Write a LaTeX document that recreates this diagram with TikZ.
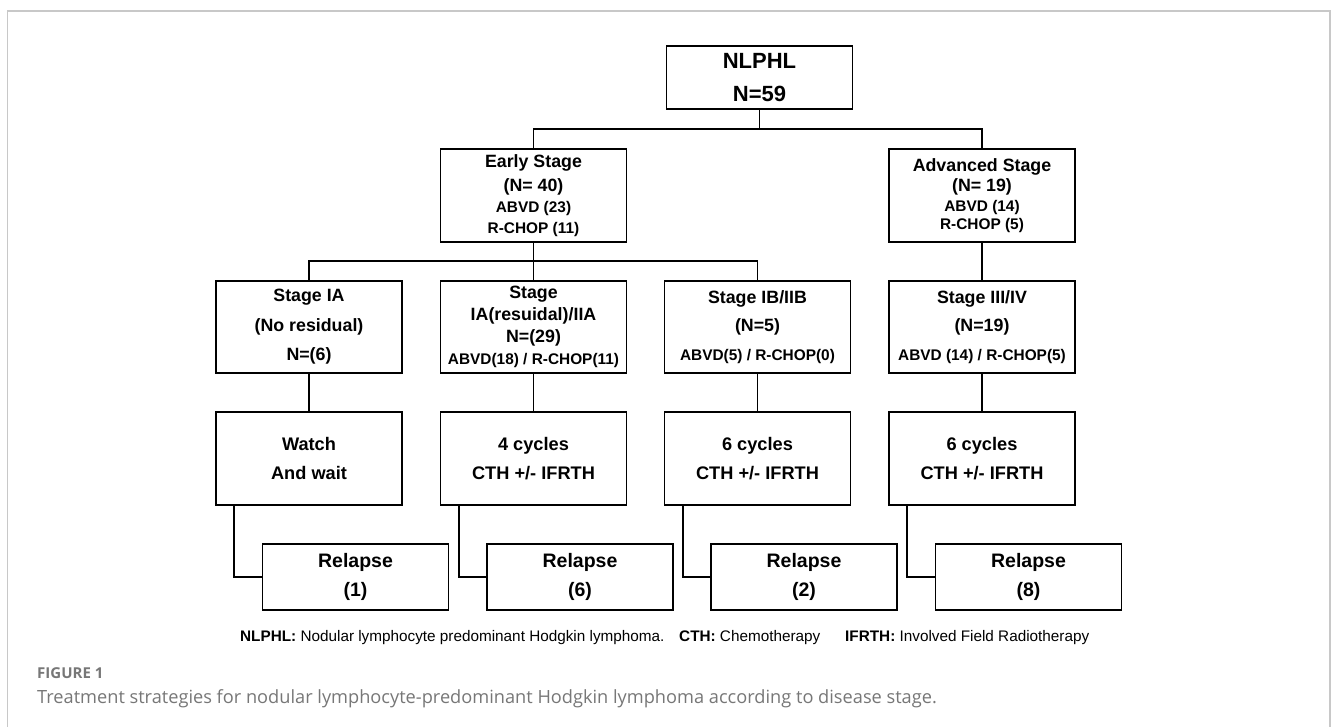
\documentclass[tikz,border=0pt]{standalone}
\usepackage{fontspec}
\setmainfont{Liberation Sans}
\newfontfamily\capfont{Open Sans}
\definecolor{framegray}{HTML}{C8C8C8}
\definecolor{capgray}{HTML}{777777}
\begin{document}
\begin{tikzpicture}[x=1pt,y=-1pt,
  box/.style={draw, line width=1.7pt, minimum width=186pt, inner sep=0pt, align=center, font=\bfseries},
  conn/.style={line width=1.7pt},
  legend/.style={anchor=base west, inner sep=0pt, font=\fontsize{15.3}{17}\selectfont}]
\useasboundingbox (0,0) rectangle (1331,726);
\fill[white] (0,0) rectangle (1331,726);
\draw[framegray, line width=1.2pt] (7.5,760) -- (7.5,11) -- (1330,11) -- (1330,760);

% level 0
\node[box, minimum height=63pt, font=\bfseries\fontsize{22}{33}\selectfont] (top) at (759.5,77.5) {NLPHL\\N=59};
% level 1
\node[box, minimum height=93pt, font=\bfseries\fontsize{17.8}{21}\selectfont] (early) at (533.5,195.5)
  {Early Stage\\[3pt](N= 40)\\{\fontsize{15.4}{21}\selectfont ABVD (23)}\\{\fontsize{15.4}{21}\selectfont R-CHOP (11)}};
\node[box, minimum height=93pt, font=\bfseries\fontsize{17.8}{20}\selectfont] (adv) at (982,195.5)
  {Advanced Stage\\(N= 19)\\{\fontsize{15.4}{20}\selectfont ABVD (14)}\\[-2pt]{\fontsize{15.4}{20}\selectfont R-CHOP (5)}};
% level 2
\node[box, minimum height=92pt, font=\bfseries\fontsize{17.8}{29.5}\selectfont] (s1) at (309,327) {Stage IA\\(No residual)\\N=(6)};
\node[box, minimum height=92pt, font=\bfseries\fontsize{17.8}{22}\selectfont] (s2) at (533.5,327)
  {Stage\\IA(resuidal)/IIA\\N=(29)\\{\fontsize{15.4}{22}\selectfont ABVD(18) / R-CHOP(11)}};
\node[box, minimum height=92pt, font=\bfseries\fontsize{17.8}{28.5}\selectfont] (s3) at (757.5,327)
  {Stage IB/IIB\\(N=5)\\{\fontsize{15.4}{28.5}\selectfont ABVD(5) / R-CHOP(0)}};
\node[box, minimum height=92pt, font=\bfseries\fontsize{17.8}{28.5}\selectfont] (s4) at (982,327)
  {Stage III/IV\\(N=19)\\{\fontsize{15.4}{28.5}\selectfont ABVD (14) / R-CHOP(5)}};
% level 3
\node[box, minimum height=93pt, font=\bfseries\fontsize{18.2}{29}\selectfont] (t1) at (309,458.5) {Watch\\And wait};
\node[box, minimum height=93pt, font=\bfseries\fontsize{18.2}{29}\selectfont] (t2) at (533.5,458.5) {4 cycles\\CTH +/- IFRTH};
\node[box, minimum height=93pt, font=\bfseries\fontsize{18.2}{29}\selectfont] (t3) at (757.5,458.5) {6 cycles\\CTH +/- IFRTH};
\node[box, minimum height=93pt, font=\bfseries\fontsize{18.2}{29}\selectfont] (t4) at (982,458.5) {6 cycles\\CTH +/- IFRTH};
% level 4
\node[box, minimum height=66pt, font=\bfseries\fontsize{19.5}{29}\selectfont] (r1) at (355.5,577) {Relapse\\(1)};
\node[box, minimum height=66pt, font=\bfseries\fontsize{19.5}{29}\selectfont] (r2) at (580,577) {Relapse\\(6)};
\node[box, minimum height=66pt, font=\bfseries\fontsize{19.5}{29}\selectfont] (r3) at (804,577) {Relapse\\(2)};
\node[box, minimum height=66pt, font=\bfseries\fontsize{19.5}{29}\selectfont] (r4) at (1028.5,577) {Relapse\\(8)};

% connectors
\coordinate (j1) at (759.5,129);
\coordinate (j2) at (533.5,261);
\draw[conn] (top.south) -- (j1);
\draw[conn] (early.north) |- (j1) -| (adv.north);
\draw[conn] (early.south) -- (j2) -- (s2.north);
\draw[conn] (s1.north) |- (j2) -| (s3.north);
\draw[conn] (adv.south) -- (s4.north);
\foreach \i in {1,2,3,4}{
  \draw[conn] (s\i.south) -- (t\i.north);
  \draw[conn] ([xshift=19pt]t\i.south west) |- (r\i.west);
}

% legend
\node[legend] (leg1) at (240,641) {\textbf{NLPHL:} Nodular lymphocyte predominant Hodgkin lymphoma.};
\node[legend] (leg2) at (679,641) {\textbf{CTH:} Chemotherapy};
\node[legend] (leg3) at (845,641) {\textbf{IFRTH:} Involved Field Radiotherapy};

% caption
\node[anchor=base west, inner sep=0pt, text=capgray, font=\capfont\bfseries\fontsize{15}{17}\selectfont] (fig) at (37,678) {FIGURE 1};
\node[anchor=base west, inner sep=0pt, text=capgray, font=\capfont\fontsize{18.2}{21}\selectfont] (cap) at (37,703) {Treatment strategies for nodular lymphocyte-predominant Hodgkin lymphoma according to disease stage.};
\end{tikzpicture}
\end{document}
